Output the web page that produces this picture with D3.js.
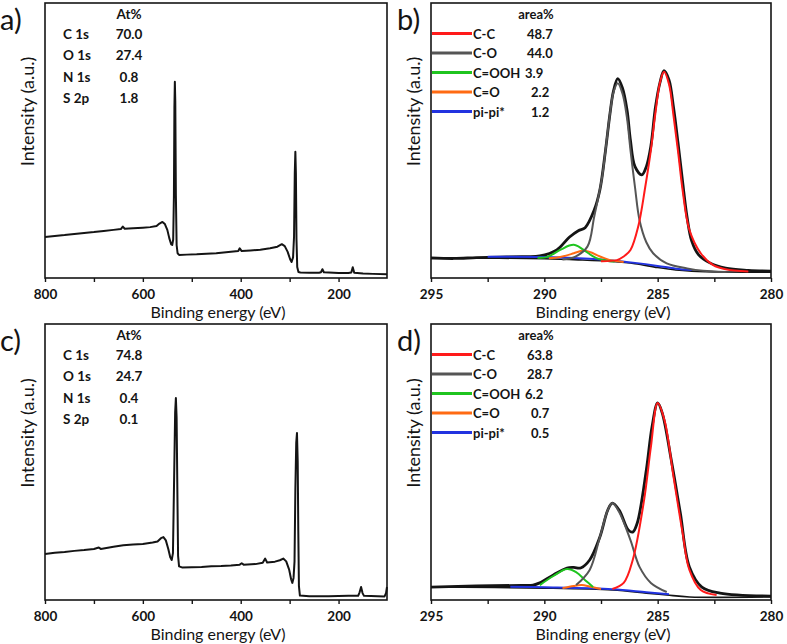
<!DOCTYPE html>
<html>
<head>
<meta charset="utf-8">
<script src="https://cdn.jsdelivr.net/npm/d3@7/dist/d3.min.js"></script>
<style>
  body { margin: 0; background: #fff; }
  svg text { font-family: Lato, "Open Sans", sans-serif; fill: #141414; }
</style>
</head>
<body>
<svg id="chart" width="787" height="644"></svg>
<script>
// ---------- data ----------
const surveyTicks = [800, 600, 400, 200];
const surveyMinor = [700, 500, 300];
const c1sTicks = [295, 290, 285, 280];
const c1sMinor = [292.5, 287.5, 282.5];

const elementNames = ["C 1s", "O 1s", "N 1s", "S 2p"];
const atomicA = ["70.0", "27.4", "0.8", "1.8"];
const atomicC = ["74.8", "24.7", "0.4", "0.1"];
const componentNames = ["C-C", "C-O", "C=OOH", "C=O", "pi-pi*"];
const areaB = ["48.7", "44.0", "3.9", "2.2", "1.2"];
const areaD = ["63.8", "28.7", "6.2", "0.7", "0.5"];

// survey spectra: [binding energy (eV), intensity (a.u.)]
const surveyA = [[800,14.9],[780,15.3],[760,15.6],[740,16.0],[720,16.4],[700,16.7],[680,17.1],[660,17.5],[645,17.8],[641,18.7],[637,17.9],[620,18.1],[600,18.3],[585,18.5],[572,18.9],[566,19.8],[560,20.4],[555,19.6],[550,17.5],[546,14.5],[542,12.2],[540,12.0],[538,14],[536.5,30],[535.5,62],[534.6,71.4],[533.7,64],[532.5,30],[531,12],[529,9],[526,8.4],[510,8.5],[490,8.6],[470,8.8],[450,9.0],[430,9.4],[405,9.8],[402,10.8],[398,9.8],[380,10.0],[360,10.3],[340,10.8],[325,11.4],[316,12.3],[310,11.6],[304,9.5],[299,6.8],[296,5.8],[293,7.5],[291,15],[289.5,38],[288.3,45.9],[287.2,38],[286,14],[284.5,4],[282,2.2],[278,2.0],[260,1.9],[240,1.9],[236,2.1],[233,3.2],[230,2.1],[220,2.0],[200,1.8],[180,1.8],[174,2.0],[171,3.9],[168,1.9],[150,1.6],[130,1.5],[101,1.4]];

const surveyC = [[800,16.7],[780,17.1],[760,17.4],[740,17.8],[720,18.1],[700,18.5],[690,19.0],[686,18.5],[660,19.3],[640,19.8],[620,20.1],[600,20.3],[580,20.8],[570,21.2],[563,22.4],[558,22.8],[553,21.6],[548,18.5],[544,15.5],[541,14.5],[538.5,17],[536,45],[534,68],[532.5,73.2],[531,66],[529.5,40],[528,16],[526,12.2],[520,11.8],[500,11.9],[480,12.0],[460,12.2],[440,12.3],[420,12.5],[402,12.8],[398,13.3],[394,12.8],[370,13.0],[355,13.5],[350,15.0],[346,13.6],[330,13.9],[320,14.4],[313,15.0],[307,14.0],[301,11],[297,7.5],[294.5,6.2],[292,8],[290,14],[288.3,40],[286.5,57],[285,60.5],[283.5,50],[282.3,25],[281,5],[279,1.6],[260,1.4],[220,1.4],[180,1.5],[160,1.5],[157,2.8],[154,4.7],[151,2.5],[148,1.5],[120,1.4],[106,1.3],[103,2.5],[101,4.7]];

// C 1s high resolution, panel b
const envelopeB = [[295,7.3],[294,7.1],[293,7.4],[292,7.6],[291,7.8],[290.2,8.0],[289.45,10.2],[288.9,14.8],[288.5,17.2],[288.2,18.3],[287.8,24.7],[287.55,32],[287.3,46.5],[287.1,60],[286.95,68],[286.76,72.5],[286.55,69],[286.35,61],[286.2,50],[286.0,40.5],[285.7,37.5],[285.5,40.5],[285.3,48],[285.1,62],[284.9,71],[284.72,75.4],[284.5,72],[284.3,62],[284.1,49],[283.9,35],[283.7,22],[283.5,13.5],[283.2,8.5],[282.7,5.5],[282,3.6],[281,2.8],[280,2.5]];
const ccB = [[287.5,6.1],[286.8,6.5],[286.5,7.8],[286.2,10.2],[285.85,19],[285.55,33],[285.3,46.5],[285.1,60],[284.9,71],[284.72,75],[284.5,70.5],[284.3,59],[284.1,46],[283.9,32],[283.6,17.5],[283.1,9],[282.55,4.7],[282,3.2],[281,2.4]];
const coB = [[289.2,6.7],[288.65,7.7],[288.1,11.4],[287.8,22.3],[287.45,36.8],[287.3,46.5],[287.1,60],[286.95,67.5],[286.76,70.8],[286.55,67],[286.35,58],[286.2,46.5],[286.0,33],[285.8,21],[285.5,13],[285.2,9],[284.6,5.3],[283.7,3.5],[283,2.6],[282,2.2]];
const coohB = [[290.3,7.4],[289.9,7.6],[289.3,10.2],[288.9,11.8],[288.7,12.1],[288.5,11.5],[288.3,10.4],[287.7,7.2],[287.25,6.3],[286.9,6.0]];
const ceqoB = [[289.8,7.2],[289.3,7.6],[288.7,9],[288.4,9.8],[288.2,9.9],[287.9,9.2],[287.7,8.4],[287.1,6.5],[286.8,6.2],[286.5,5.8]];
const pipiB = [[292.5,7.7],[290,7.6],[288,7.0],[287,6.4],[286,5.5],[285,4.4],[284.2,3.4],[283.5,2.9]];
const backgroundB = [[295,7.1],[292,7.2],[290,7.0],[288.5,6.6],[287,6.0],[286,5.2],[285,3.8],[284.2,2.9],[283.5,2.5],[282,2.2],[280,2.1]];

// C 1s high resolution, panel d
const envelopeD = [[295,4.7],[293,5.1],[291,5.3],[290.5,5.4],[290.2,6.2],[289.6,9.1],[289.0,11.6],[288.7,11.8],[288.4,11.6],[288.0,14.5],[287.55,22.8],[287.2,32.6],[287.0,35.1],[286.7,32.6],[286.3,25.4],[286.1,24.6],[285.9,27.9],[285.5,47.1],[285.25,62.7],[285.0,71.4],[284.8,67.8],[284.4,50.7],[284.0,31.5],[283.6,12],[283.05,4.7],[282.25,2.5],[280,1.4]];
const ccD = [[287,4.0],[286.5,6.2],[286.1,14.5],[285.6,36.2],[285.3,55.4],[285.0,71.4],[284.7,65.2],[284.3,44.6],[283.9,24.3],[283.6,10.9],[283.1,3.6],[282.4,1.8]];
const coD = [[288.6,5.4],[288.0,10.9],[287.55,22.8],[287.2,32.6],[287.0,35.1],[286.7,31.9],[286.2,21.7],[285.8,12],[285.3,6.2],[284.6,2.9]];
const coohD = [[290.2,5.4],[289.6,8.7],[289.0,11.2],[288.6,10.1],[288.2,7.2],[287.85,4.7]];
const ceqoD = [[289.2,4.3],[288.7,5.1],[288.35,5.4],[288.0,4.9],[287.5,4.0]];
const pipiD = [[291.5,4.8],[290,4.6],[287,3.9],[285.5,2.8],[284.5,2.1]];
const backgroundD = [[295,4.7],[290,4.3],[287,3.6],[285.5,2.5],[284.6,1.8],[283.6,1.1],[280,1.1]];

// ---------- styles ----------
const compColors = ["#ff1a1a", "#555555", "#1fc41f", "#ff6a13", "#2233e0"];
const inkColor = "#141414";

const svg = d3.select("#chart");

const panels = [
  { label: "a)", x0: 45, x1: 387, y0: 3, y1: 278, survey: true, data: surveyA, at: atomicA, lx: 0 },
  { label: "b)", x0: 431, x1: 771, y0: 3, y1: 278, survey: false, lx: 397,
    env: envelopeB, comps: [ccB, coB, coohB, ceqoB, pipiB], bg: backgroundB, area: areaB },
  { label: "c)", x0: 45, x1: 387, y0: 324, y1: 600, survey: true, data: surveyC, at: atomicC, lx: 0 },
  { label: "d)", x0: 431, x1: 771, y0: 324, y1: 600, survey: false, lx: 397,
    env: envelopeD, comps: [ccD, coD, coohD, ceqoD, pipiD], bg: backgroundD, area: areaD }
];

panels.forEach(function (p) {
  const g = svg.append("g");
  const x = d3.scaleLinear()
    .domain(p.survey ? [800, 101] : [295, 280])
    .range([p.x0, p.x1]);
  const y = d3.scaleLinear().domain([0, 100]).range([p.y1, p.y0]);

  // axis ticks (outward) and labels
  const major = d3.axisBottom(x).tickValues(p.survey ? surveyTicks : c1sTicks)
    .tickSize(4).tickFormat(d3.format("d"));
  const minor = d3.axisBottom(x).tickValues(p.survey ? surveyMinor : c1sMinor)
    .tickSize(4).tickFormat("");
  [major, minor].forEach(function (ax) {
    const a = g.append("g").attr("transform", "translate(0," + p.y1 + ")").call(ax);
    a.select(".domain").remove();
    a.selectAll("line").attr("stroke", inkColor).attr("stroke-width", 1.4);
    a.selectAll("text")
      .attr("y", 20.5).attr("dy", 0)
      .attr("font-family", "Lato, sans-serif")
      .attr("font-size", 13.5).attr("font-weight", "bold")
      .attr("fill", inkColor);
  });

  // axis titles
  g.append("text")
    .attr("x", (p.x0 + p.x1) / 2 + 2).attr("y", p.y1 + 39.5)
    .attr("text-anchor", "middle").attr("font-size", 16)
    .text("Binding energy (eV)");
  g.append("text")
    .attr("transform", "translate(" + (p.x0 - 11) + "," + ((p.y0 + p.y1) / 2 - 29) + ") rotate(-90)")
    .attr("text-anchor", "middle").attr("font-size", 18)
    .text("Intensity (a.u.)");

  // panel letter
  g.append("text")
    .attr("x", p.lx).attr("y", p.y0 + 26.5)
    .attr("font-size", 29)
    .text(p.label);

  const line = d3.line()
    .x(function (d) { return x(d[0]); })
    .y(function (d) { return y(d[1]); });

  if (p.survey) {
    g.append("path").datum(p.data)
      .attr("d", line)
      .attr("fill", "none").attr("stroke", inkColor)
      .attr("stroke-width", 2).attr("stroke-linejoin", "round");

    // composition table
    const tx = p.x0 + 18, vx = p.x0 + 84;
    g.append("text").attr("x", vx).attr("y", p.y0 + 16)
      .attr("text-anchor", "middle").attr("font-size", 13.5).attr("font-weight", "bold")
      .text("At%");
    elementNames.forEach(function (name, i) {
      const yy = p.y0 + 36.2 + 21.2 * i;
      g.append("text").attr("x", tx).attr("y", yy)
        .attr("font-size", 13.5).attr("font-weight", "bold").text(name);
      g.append("text").attr("x", vx).attr("y", yy)
        .attr("text-anchor", "middle")
        .attr("font-size", 13.5).attr("font-weight", "bold").text(p.at[i]);
    });
  } else {
    const smooth = d3.line()
      .x(function (d) { return x(d[0]); })
      .y(function (d) { return y(d[1]); })
      .curve(d3.curveCatmullRom.alpha(0.5));

    g.append("path").datum(p.bg).attr("d", smooth)
      .attr("fill", "none").attr("stroke", inkColor).attr("stroke-width", 1.6);
    g.append("path").datum(p.env).attr("d", smooth)
      .attr("fill", "none").attr("stroke", inkColor).attr("stroke-width", 2.8)
      .attr("stroke-linejoin", "round");
    // draw components back to front: pi-pi*, C=O, C=OOH, C-O, C-C
    [4, 3, 2, 1, 0].forEach(function (k) {
      g.append("path").datum(p.comps[k]).attr("d", smooth)
        .attr("fill", "none").attr("stroke", compColors[k]).attr("stroke-width", 2);
    });

    // legend
    g.append("text").attr("x", p.x0 + 105).attr("y", p.y0 + 16)
      .attr("text-anchor", "middle").attr("font-size", 13).attr("font-weight", "bold")
      .text("area%");
    const valueX = [p.x0 + 96, p.x0 + 96, p.x0 + 94, p.x0 + 100, p.x0 + 100];
    componentNames.forEach(function (name, i) {
      const cy = p.y0 + 30.5 + 19.5 * i;
      g.append("line")
        .attr("x1", p.x0 + 1).attr("x2", p.x0 + 41)
        .attr("y1", cy).attr("y2", cy)
        .attr("stroke", compColors[i]).attr("stroke-width", 3);
      g.append("text").attr("x", p.x0 + 42).attr("y", cy + 5)
        .attr("font-size", 13).attr("font-weight", "bold").text(name);
      g.append("text").attr("x", valueX[i]).attr("y", cy + 5)
        .attr("font-size", 13).attr("font-weight", "bold").text(p.area[i]);
    });
  }

  // frame
  g.append("rect")
    .attr("x", p.x0).attr("y", p.y0)
    .attr("width", p.x1 - p.x0).attr("height", p.y1 - p.y0)
    .attr("fill", "none").attr("stroke", inkColor).attr("stroke-width", 1.6);
});
</script>
</body>
</html>
